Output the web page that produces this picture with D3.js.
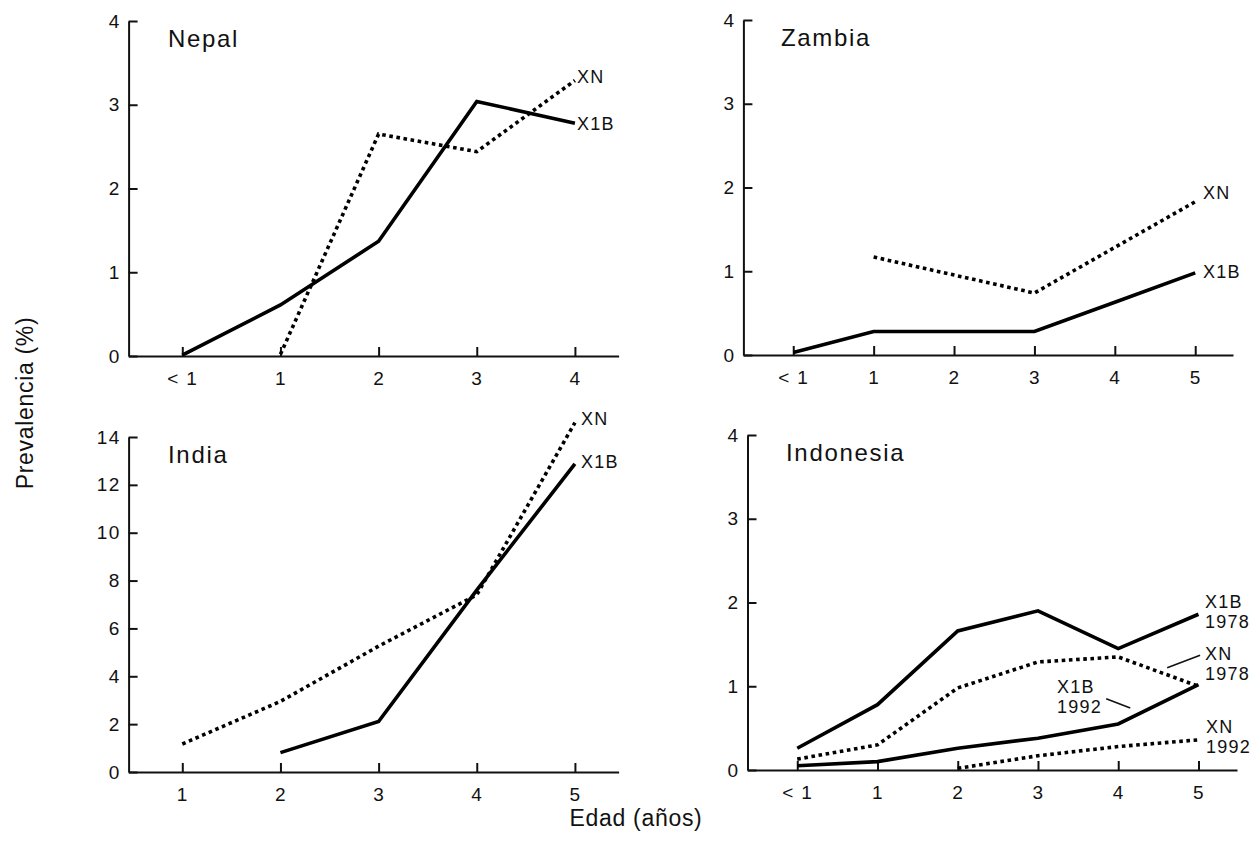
<!DOCTYPE html>
<html>
<head>
<meta charset="utf-8">
<script src="https://cdn.jsdelivr.net/npm/d3@7"></script>
<style>
  body { margin: 0; background: #fff; }
  svg text { font-family: 'Liberation Sans', Arial, sans-serif; fill: #111; letter-spacing: 0.07em; }
</style>
</head>
<body>
<svg id="grafico"></svg>
<script>
// categorias de idade (eixo X)
const idadesNepal = ['< 1', '1', '2', '3', '4'];
const idadesZambia = ['< 1', '1', '2', '3', '4', '5'];
const idadesIndia = ['1', '2', '3', '4', '5'];
const idadesIndonesia = ['< 1', '1', '2', '3', '4', '5'];

// ticks do eixo Y
const ticksY4 = [0, 1, 2, 3, 4];
const ticksY14 = [0, 2, 4, 6, 8, 10, 12, 14];

// valores (null = sem ponto)
const nepalX1B = [0.01, 0.61, 1.37, 3.04, 2.78];
const nepalXN = [null, 0.02, 2.65, 2.44, 3.29];
const zambiaX1B = [0.03, 0.28, 0.28, 0.28, 0.63, 0.98];
const zambiaXN = [null, 1.17, null, 0.74, null, 1.83];
const indiaX1B = [null, 0.81, 2.11, 7.6, 12.88];
const indiaXN = [1.17, 2.95, 5.26, 7.4, 14.6];
const indonesiaX1B1978 = [0.26, 0.78, 1.66, 1.9, 1.45, 1.86];
const indonesiaXN1978 = [0.13, 0.3, 0.98, 1.29, 1.35, 1.0];
const indonesiaX1B1992 = [0.05, 0.1, 0.26, 0.38, 0.55, 1.02];
const indonesiaXN1992 = [null, null, 0.02, 0.17, 0.28, 0.36];

const largura = 1258, altura = 858;
const svg = d3.select('#grafico').attr('width', largura).attr('height', altura);
svg.append('rect').attr('width', largura).attr('height', altura).attr('fill', '#fff');

function Painel(parametros) {
    let caixa = parametros.caixa;
    let n = parametros.categorias.length;

    this.fnX = d3
        .scaleLinear()
        .domain([-parametros.folgaEsq, n - 1 + parametros.folgaDir])
        .range([caixa.esquerda, caixa.direita]);

    this.fnY = d3
        .scaleLinear()
        .domain([0, d3.max(parametros.ticksY)])
        .range([caixa.inferior, caixa.superior]);

    let eixoY = d3.axisLeft(this.fnY)
        .tickValues(parametros.ticksY)
        .tickFormat(d3.format('d'))
        .tickSizeInner(-9)
        .tickSizeOuter(0)
        .tickPadding(8);

    let eixoX = d3.axisBottom(this.fnX)
        .tickValues(d3.range(n))
        .tickFormat((i) => parametros.categorias[i])
        .tickSizeInner(-9)
        .tickSizeOuter(0)
        .tickPadding(16);

    let gY = svg.append('g')
        .attr('transform', 'translate(' + caixa.esquerda + ',0)')
        .call(eixoY);
    let gX = svg.append('g')
        .attr('transform', 'translate(0,' + caixa.inferior + ')')
        .call(eixoX);

    [gX, gY].forEach((g) => {
        g.attr('font-size', 19).attr('font-family', null);
        g.selectAll('path.domain').attr('stroke', '#111').attr('stroke-width', 2);
        g.selectAll('.tick line').attr('stroke', '#111').attr('stroke-width', 2);
        g.selectAll('.tick text').attr('fill', '#111');
    });

    let linha = d3.line()
        .x((d) => this.fnX(d.i))
        .y((d) => this.fnY(d.v));

    parametros.series.forEach((s) => {
        let pontos = s.valores
            .map((v, i) => ({ i: i, v: v }))
            .filter((d) => d.v !== null);
        svg.append('path')
            .datum(pontos)
            .attr('d', linha)
            .attr('fill', 'none')
            .attr('stroke', '#000')
            .attr('stroke-width', 3.6)
            .attr('stroke-linejoin', 'miter')
            .attr('stroke-dasharray', s.pontilhado ? '3.6,3.6' : null);
    });

    svg.append('text')
        .attr('x', parametros.titulo.x)
        .attr('y', parametros.titulo.y)
        .attr('font-size', 24)
        .text(parametros.titulo.texto);

    parametros.rotulos.forEach((r) => {
        let t = svg.append('text')
            .attr('x', r.x)
            .attr('y', r.y)
            .attr('font-size', 18);
        r.linhas.forEach((l, k) => {
            t.append('tspan')
                .attr('x', r.x)
                .attr('dy', k === 0 ? 0 : 20)
                .text(l);
        });
    });

    (parametros.guias || []).forEach((g) => {
        svg.append('line')
            .attr('x1', this.fnX(g[0][0])).attr('y1', this.fnY(g[0][1]))
            .attr('x2', this.fnX(g[1][0])).attr('y2', this.fnY(g[1][1]))
            .attr('stroke', '#111')
            .attr('stroke-width', 1.6);
    });
}

new Painel({
    categorias: idadesNepal,
    ticksY: ticksY4,
    caixa: { esquerda: 128.6, direita: 618.6, superior: 21, inferior: 356 },
    folgaEsq: 0.547, folgaDir: 0.445,
    series: [
        { valores: nepalX1B, pontilhado: false },
        { valores: nepalXN, pontilhado: true }
    ],
    titulo: { texto: 'Nepal', x: 168, y: 47 },
    rotulos: [
        { linhas: ['XN'], x: 577, y: 83 },
        { linhas: ['X1B'], x: 577, y: 130 }
    ]
});

new Painel({
    categorias: idadesZambia,
    ticksY: ticksY4,
    caixa: { esquerda: 743.4, direita: 1233, superior: 20, inferior: 355 },
    folgaEsq: 0.62, folgaDir: 0.47,
    series: [
        { valores: zambiaX1B, pontilhado: false },
        { valores: zambiaXN, pontilhado: true }
    ],
    titulo: { texto: 'Zambia', x: 781, y: 46 },
    rotulos: [
        { linhas: ['XN'], x: 1203, y: 199 },
        { linhas: ['X1B'], x: 1203, y: 278 }
    ]
});

new Painel({
    categorias: idadesIndia,
    ticksY: ticksY14,
    caixa: { esquerda: 128.6, direita: 618.6, superior: 437, inferior: 772 },
    folgaEsq: 0.547, folgaDir: 0.445,
    series: [
        { valores: indiaX1B, pontilhado: false },
        { valores: indiaXN, pontilhado: true }
    ],
    titulo: { texto: 'India', x: 168, y: 463 },
    rotulos: [
        { linhas: ['XN'], x: 581, y: 425 },
        { linhas: ['X1B'], x: 581, y: 468 }
    ]
});

new Painel({
    categorias: idadesIndonesia,
    ticksY: ticksY4,
    caixa: { esquerda: 747.5, direita: 1237, superior: 435, inferior: 770 },
    folgaEsq: 0.62, folgaDir: 0.48,
    series: [
        { valores: indonesiaX1B1978, pontilhado: false },
        { valores: indonesiaXN1978, pontilhado: true },
        { valores: indonesiaX1B1992, pontilhado: false },
        { valores: indonesiaXN1992, pontilhado: true }
    ],
    titulo: { texto: 'Indonesia', x: 786, y: 461 },
    rotulos: [
        { linhas: ['X1B', '1978'], x: 1205, y: 608 },
        { linhas: ['XN', '1978'], x: 1205, y: 660 },
        { linhas: ['X1B', '1992'], x: 1057, y: 693 },
        { linhas: ['XN', '1992'], x: 1206, y: 733 }
    ],
    guias: [
        [[5.02, 1.37], [4.61, 1.22]],
        [[3.85, 0.85], [4.15, 0.74]]
    ]
});

// titulos dos eixos
svg.append('text')
    .attr('transform', 'translate(33,403) rotate(-90)')
    .attr('text-anchor', 'middle')
    .attr('font-size', 23)
    .style('letter-spacing', '0.03em')
    .text('Prevalencia (%)');

svg.append('text')
    .attr('x', 636)
    .attr('y', 826)
    .attr('text-anchor', 'middle')
    .attr('font-size', 23)
    .style('letter-spacing', '0.03em')
    .text('Edad (años)');
</script>
</body>
</html>
